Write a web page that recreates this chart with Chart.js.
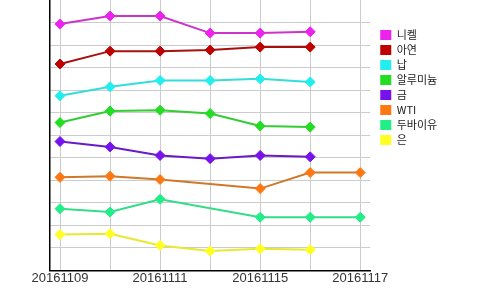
<!DOCTYPE html>
<html>
<head>
<meta charset="utf-8">
<script src="https://cdn.jsdelivr.net/npm/chart.js@4"></script>
<style>
  html, body { margin: 0; padding: 0; background: #fff; }
  #wrap { width: 500px; height: 290px; position: relative; }
</style>
</head>
<body>
<div id="wrap"><canvas id="chart"></canvas></div>
<script>
// Dates (x categories)
const dates = ['20161109', '20161110', '20161111', '20161114', '20161115', '20161116', '20161117'];

// Series names
const names = ['니켈', '아연', '납', '알루미늄', '금', 'WTI', '두바이유', '은'];

// Values (relative index, no axis labels shown)
const nickel   = [10.93, 11.29, 11.29, 10.53, 10.53, 10.59, null];
const zinc     = [9.16, 9.73, 9.73, 9.78, 9.91, 9.91, null];
const lead     = [7.75, 8.15, 8.43, 8.43, 8.50, 8.36, null];
const aluminum = [6.56, 7.07, 7.11, 6.96, 6.41, 6.36, null];
const gold     = [5.72, 5.48, 5.10, 4.96, 5.10, 5.04, null];
const wti      = [4.13, 4.18, 4.03, null, 3.63, 4.34, 4.34];
const dubai    = [2.74, 2.59, 3.16, null, 2.36, 2.36, 2.36];
const silver   = [1.59, 1.63, 1.11, 0.86, 0.96, 0.92, null];

const seriesValues = [nickel, zinc, lead, aluminum, gold, wti, dubai, silver];

// marker colour / line colour
const pointColors = ['#ee22ee', '#c00000', '#22eeee', '#22dd22', '#7711ee', '#ff7711', '#22ee88', '#ffff22'];
const lineColors  = ['#cc33cc', '#a81010', '#33dddd', '#33cc33', '#6a1ac8', '#d0782a', '#33dd88', '#e8e833'];

const datasets = names.map((name, k) => ({
  label: name,
  data: seriesValues[k].map((v, i) => ({ x: i, y: v })),
  borderColor: lineColors[k],
  backgroundColor: pointColors[k],
  borderWidth: 2,
  pointStyle: 'rectRot',
  pointRadius: 5,
  pointBorderWidth: 1,
  pointBackgroundColor: pointColors[k],
  pointBorderColor: pointColors[k],
  spanGaps: true,
  tension: 0
}));

new Chart(document.getElementById('chart'), {
  type: 'line',
  data: { datasets: datasets },
  options: {
    responsive: true,
    maintainAspectRatio: false,
    animation: false,
    layout: { autoPadding: false, padding: { left: 50, top: 0, bottom: 4, right: 58.5 } },
    plugins: {
      tooltip: { enabled: false },
      legend: {
        position: 'right',
        align: 'start',
        title: { display: true, text: '', font: { size: 11 }, padding: { top: 12.3, bottom: 0 } },
        labels: {
          font: { family: '"Noto Sans CJK KR", sans-serif', size: 11 },
          color: '#222',
          boxWidth: 11,
          boxHeight: 10,
          padding: 4,
          generateLabels: (chart) => Chart.defaults.plugins.legend.labels.generateLabels(chart).map(item => {
            item.lineWidth = 0;
            item.strokeStyle = item.fillStyle;
            return item;
          })
        }
      }
    },
    scales: {
      x: {
        type: 'linear',
        min: -0.2,
        max: 6.2,
        afterBuildTicks: (scale) => { scale.ticks = dates.map((d, i) => ({ value: i })); },
        grid: { color: '#cccccc', drawTicks: false },
        border: { color: '#000', width: 1.5 },
        ticks: {
          autoSkip: false,
          maxRotation: 0,
          padding: 0,
          color: '#333',
          font: { family: '"Liberation Sans", Arial, sans-serif', size: 13 },
          callback: (v) => (v % 2 === 0 ? dates[v] : '')
        }
      },
      y: {
        min: 0,
        max: 12,
        ticks: { display: false, stepSize: 1 },
        grid: {
          drawTicks: false,
          color: (ctx) => (ctx.tick && ctx.tick.value === 12 ? 'rgba(0,0,0,0)' : '#cccccc')
        },
        border: { color: '#000', width: 1.5 }
      },
      gap: {
        position: 'right',
        display: true,
        ticks: { display: false },
        grid: { display: false, drawTicks: false },
        border: { display: false },
        afterFit: (scale) => { scale.width = 6; }
      }
    }
  }
});
</script>
</body>
</html>
